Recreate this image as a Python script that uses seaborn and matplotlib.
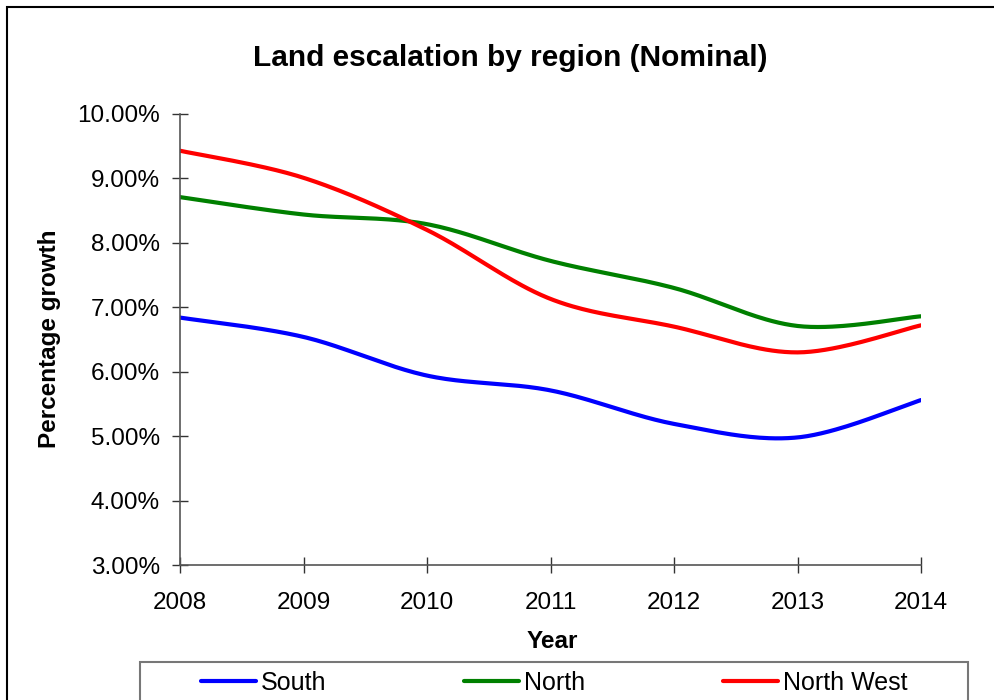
import matplotlib
matplotlib.use("Agg")
import matplotlib.pyplot as plt
from matplotlib.patches import Rectangle
import seaborn as sns
import numpy as np
import pandas as pd

years = [2008, 2009, 2010, 2011, 2012, 2013, 2014]
south = [6.84, 6.54, 5.94, 5.71, 5.19, 4.98, 5.56]
north = [8.71, 8.44, 8.29, 7.72, 7.30, 6.71, 6.86]
north_west = [9.43, 9.01, 8.20, 7.13, 6.70, 6.30, 6.72]
series_names = ["South", "North", "North West"]
colors = ["#0000ff", "#008000", "#ff0000"]
y_ticks = [3, 4, 5, 6, 7, 8, 9, 10]


def smooth(x, y, n=40):
    # excel-like smoothed line (catmull-rom through the data points)
    x = np.asarray(x, float)
    y = np.asarray(y, float)
    px = np.concatenate([[x[0]], x, [x[-1]]])
    py = np.concatenate([[y[0]], y, [y[-1]]])
    t = np.linspace(0, 1, n)[:, None]
    xs, ys = [], []
    for i in range(1, len(x)):
        p0, p1, p2, p3 = (np.array([px[j], py[j]]) for j in (i - 1, i, i + 1, i + 2))
        c1 = p1 + (p2 - p0) / 6
        c2 = p2 - (p3 - p1) / 6
        b = ((1 - t) ** 3) * p1 + 3 * ((1 - t) ** 2) * t * c1 + 3 * (1 - t) * t ** 2 * c2 + t ** 3 * p2
        xs.append(b[:, 0])
        ys.append(b[:, 1])
    return np.concatenate(xs), np.concatenate(ys)


sns.set_theme(style="white", rc={"text.color": "black", "axes.labelcolor": "black",
                                 "xtick.color": "black", "ytick.color": "black"})
plt.rcParams["font.family"] = ["Liberation Sans", "DejaVu Sans"]

fig = plt.figure(figsize=(9.94, 7.0), dpi=100)
ax = fig.add_axes([180 / 994, 1 - 565 / 700, 741 / 994, 451 / 700])

for name, vals, c in zip(series_names, [south, north, north_west], colors):
    sx, sy = smooth(years, vals)
    d = pd.DataFrame({"Year": sx, "Value": sy})
    sns.lineplot(data=d, x="Year", y="Value", sort=False, estimator=None,
                 color=c, lw=3, label=name, ax=ax)

ax.set_xlim(2008, 2014)
ax.set_ylim(3, 10)
ax.set_xticks(years)
ax.set_xticklabels([str(y) for y in years])
ax.set_yticks(y_ticks)
ax.set_yticklabels([f"{v:.2f}%" for v in y_ticks])
ax.tick_params(axis="both", direction="inout", length=11, width=1,
               color="#333333", labelsize=17.5, labelcolor="black",
               bottom=True, left=True)
ax.tick_params(axis="y", pad=9)
ax.tick_params(axis="x", pad=14)
for s in ["top", "right"]:
    ax.spines[s].set_visible(False)
for s in ["left", "bottom"]:
    ax.spines[s].set_color("#555555")
    ax.spines[s].set_linewidth(1.2)
ax.set_xlabel("")
ax.set_ylabel("")

fig.text(510 / 994, 1 - 58 / 700, "Land escalation by region (Nominal)",
         ha="center", va="center", fontsize=21.5, fontweight="bold")
fig.text(552 / 994, 1 - 642 / 700, "Year", ha="center", va="center",
         fontsize=17.5, fontweight="bold")
fig.text(50 / 994, 1 - 339 / 700, "Percentage growth", ha="center", va="center",
         rotation=90, fontsize=17.5, fontweight="bold")

# outer chart border and legend box (both run off the bottom edge)
fig.patches.append(Rectangle((7 / 994, -0.1), 1.0, 1 - 7 / 700 + 0.1,
                             transform=fig.transFigure, fill=False,
                             ec="black", lw=1.5))
fig.patches.append(Rectangle((140 / 994, -0.1), 828 / 994, 1 - 662 / 700 + 0.1,
                             transform=fig.transFigure, fill=False,
                             ec="#777777", lw=1.5))

handles, labels = ax.get_legend_handles_labels()
ax.get_legend().remove()
fig.legend(handles, labels, loc="center", bbox_to_anchor=(554 / 994, 1 - 683 / 700),
           ncol=3, frameon=False, fontsize=18, handlelength=2.2,
           handletextpad=0.2, columnspacing=5.5, borderpad=0)

fig.savefig("out.png", dpi=100)
